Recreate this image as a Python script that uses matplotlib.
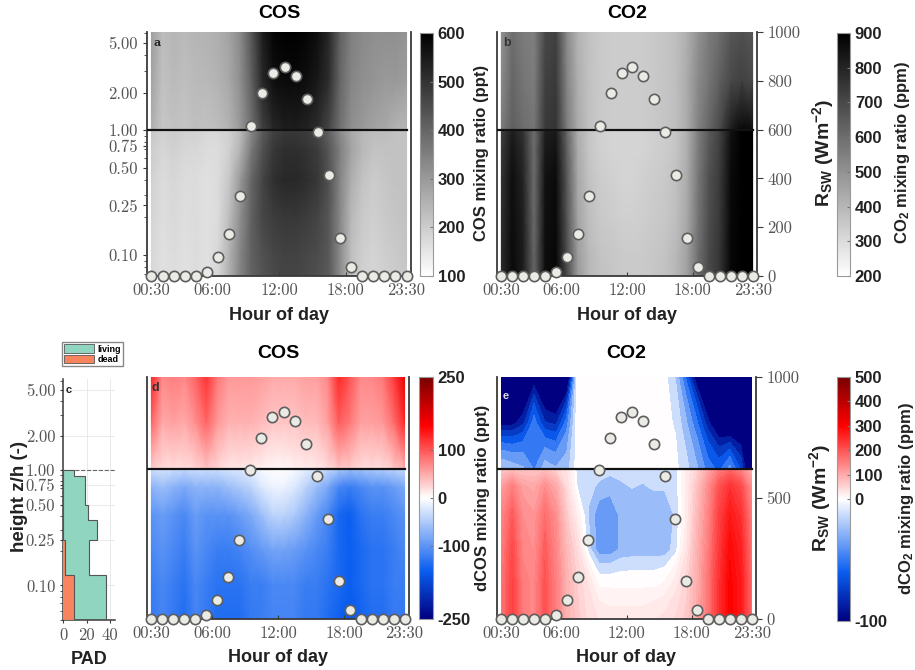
import matplotlib
matplotlib.use('Agg')
import matplotlib.pyplot as plt
import numpy as np
from matplotlib.colors import LinearSegmentedColormap, Normalize, TwoSlopeNorm
from matplotlib.cm import ScalarMappable
from matplotlib.patches import Patch
from matplotlib.ticker import NullFormatter

plt.rcParams['font.family'] = ['Liberation Sans', 'DejaVu Sans']
plt.rcParams['axes.unicode_minus'] = False
plt.rcParams['mathtext.fontset'] = 'custom'
plt.rcParams['mathtext.rm'] = 'Liberation Sans:bold'
plt.rcParams['mathtext.bf'] = 'Liberation Sans:bold'
plt.rcParams['mathtext.it'] = 'Liberation Sans:bold'

# ---- data ----
hours = [0.5, 1.5, 2.5, 3.5, 4.5, 5.5, 6.5, 7.5, 8.5, 9.5, 10.5, 11.5,
         12.5, 13.5, 14.5, 15.5, 16.5, 17.5, 18.5, 19.5, 20.5, 21.5, 22.5, 23.5]
hour_ticks = [0.5, 6, 12, 18, 23.5]
hour_labels = ['00:30', '06:00', '12:00', '18:00', '23:30']
z_ticks = [0.1, 0.25, 0.5, 0.75, 1.0, 2.0, 5.0]
z_labels = ['0.10', '0.25', '0.50', '0.75', '1.00', '2.00', '5.00']

z_below = [0.05, 0.1, 0.2, 0.4, 0.7, 1.0]
z_above = [1.0, 2.5, 6.2]

# shortwave radiation (W m-2)
rsw = [0, 0, 0, 0, 0, 16, 79, 173, 327, 616, 749, 834,
       856, 818, 725, 590, 415, 155, 37, 0, 0, 0, 0, 0]

# COS mixing ratio (ppt)
cos_below = [
    [180, 160, 170, 160, 170, 160, 180, 260, 340, 400, 430, 450, 460, 460, 450, 440, 420, 330, 220, 190, 180, 190, 200, 210],
    [180, 160, 170, 160, 170, 160, 180, 250, 340, 410, 440, 460, 470, 470, 460, 450, 425, 330, 225, 195, 185, 195, 205, 215],
    [185, 165, 175, 165, 170, 160, 170, 230, 320, 410, 460, 480, 490, 490, 480, 465, 430, 335, 240, 205, 195, 205, 215, 220],
    [190, 170, 180, 170, 170, 160, 170, 210, 300, 400, 465, 505, 520, 520, 510, 490, 440, 340, 260, 220, 200, 210, 220, 220],
    [200, 180, 190, 180, 180, 170, 170, 190, 250, 360, 440, 490, 510, 510, 500, 480, 430, 350, 280, 240, 220, 220, 220, 220],
    [210, 190, 200, 190, 190, 180, 180, 190, 230, 330, 420, 470, 490, 490, 480, 460, 410, 330, 270, 240, 230, 230, 220, 220],
]
cos_above = [
    [260, 210, 220, 215, 225, 220, 230, 250, 300, 380, 470, 520, 540, 540, 530, 510, 460, 380, 320, 300, 280, 270, 250, 240],
    [280, 220, 235, 225, 235, 240, 250, 270, 320, 410, 520, 570, 580, 580, 570, 550, 510, 400, 340, 320, 310, 300, 300, 290],
    [290, 230, 245, 235, 245, 250, 260, 280, 330, 430, 540, 590, 600, 600, 590, 570, 520, 410, 350, 330, 320, 320, 320, 310],
]

# CO2 mixing ratio (ppm)
co2_below = [
    [780, 870, 820, 620, 860, 880, 700, 480, 400, 370, 360, 350, 350, 350, 360, 370, 400, 460, 600, 700, 760, 880, 900, 900],
    [780, 870, 820, 620, 860, 880, 690, 470, 395, 365, 355, 345, 345, 345, 355, 365, 395, 455, 595, 695, 755, 880, 900, 900],
    [770, 865, 810, 610, 855, 875, 670, 450, 380, 350, 340, 330, 330, 335, 345, 355, 380, 440, 580, 685, 745, 875, 900, 900],
    [760, 860, 800, 600, 850, 870, 660, 440, 370, 340, 330, 320, 320, 330, 340, 350, 370, 430, 570, 680, 740, 870, 900, 900],
    [740, 840, 780, 600, 830, 850, 640, 430, 360, 330, 320, 320, 320, 320, 330, 340, 360, 420, 560, 660, 730, 860, 900, 900],
    [720, 820, 760, 590, 810, 830, 620, 420, 360, 330, 320, 320, 320, 320, 330, 340, 360, 420, 550, 650, 720, 850, 900, 900],
]
co2_above = [
    [560, 640, 600, 580, 740, 760, 560, 430, 370, 350, 340, 340, 340, 340, 350, 360, 380, 430, 540, 620, 700, 820, 880, 860],
    [520, 620, 580, 560, 720, 740, 540, 420, 370, 350, 340, 340, 340, 340, 350, 360, 380, 430, 520, 580, 640, 700, 720, 700],
    [500, 600, 560, 550, 700, 720, 520, 410, 370, 350, 340, 340, 340, 340, 350, 360, 380, 420, 500, 560, 600, 660, 680, 660],
]

# COS difference (ppt)
dcos_below = [
    [-125, -115, -125, -135, -115, -125, -135, -135, -135, -125, -120, -115, -115, -115, -125, -125, -135, -145, -155, -145, -135, -135, -125, -125],
    [-120, -110, -120, -130, -110, -120, -130, -130, -130, -120, -120, -110, -110, -110, -120, -120, -130, -140, -150, -140, -130, -130, -120, -120],
    [-110, -100, -110, -120, -100, -110, -120, -120, -115, -105, -95, -85, -85, -90, -100, -110, -120, -140, -150, -140, -130, -130, -120, -110],
    [-100, -90, -100, -110, -90, -100, -100, -100, -90, -80, -60, -40, -40, -50, -70, -90, -110, -140, -150, -130, -120, -120, -110, -100],
    [-70, -60, -70, -80, -70, -70, -70, -60, -50, -40, -20, -10, -10, -20, -40, -60, -80, -110, -120, -110, -100, -100, -90, -80],
    [-30, -25, -30, -35, -30, -30, -30, -25, -20, -15, -5, 0, 0, -5, -15, -25, -35, -50, -60, -55, -50, -45, -40, -35],
]
dcos_above = [
    [30, 20, 20, 20, 25, 35, 25, 15, 15, 12, 8, 5, 5, 8, 10, 12, 20, 35, 30, 20, 20, 20, 30, 45],
    [90, 50, 55, 50, 65, 90, 60, 45, 45, 45, 40, 35, 35, 35, 40, 40, 55, 95, 80, 55, 55, 60, 85, 125],
    [130, 70, 75, 70, 90, 120, 80, 60, 60, 60, 55, 50, 50, 50, 55, 55, 70, 125, 100, 70, 70, 80, 115, 165],
]

# CO2 difference (ppm)
dco2_below = [
    [160, 220, 150, 140, 200, 150, 90, 60, 40, 30, 25, 25, 25, 25, 30, 35, 45, 60, 100, 160, 240, 300, 270, 170],
    [160, 220, 150, 140, 200, 150, 90, 55, 30, 3, 3, 3, 3, 3, 3, 8, 25, 50, 95, 160, 240, 300, 270, 170],
    [150, 210, 140, 130, 190, 140, 80, 40, -12, -40, -40, -29, -27, -27, -27, -27, -12, 30, 90, 150, 230, 290, 260, 160],
    [140, 190, 130, 120, 170, 130, 60, 15, -20, -40, -38, -29, -27, -27, -27, -27, -17, 20, 80, 140, 220, 270, 240, 150],
    [110, 150, 110, 100, 130, 100, 40, -8, -15, -21, -27, -21, -18, -20, -17, -17, -13, 20, 70, 130, 200, 240, 210, 130],
    [60, 70, 60, 60, 70, 50, 30, -13, -13, -13, -13, -13, -13, -13, -13, -13, -13, 20, 50, 100, 150, 170, 140, 90],
]
dco2_above = [
    [-20, -25, -30, -45, -25, -30, -25, 0, 2, 2, 2, 2, 2, 2, 2, -2, -3, -15, -30, -50, -60, -40, -70, -130],
    [-100, -100, -85, -50, -80, -85, -50, 2, 3, 3, 3, 3, 3, 3, 3, -2, -8, -30, -55, -90, -120, -130, -130, -140],
    [-160, -160, -150, -110, -150, -160, -130, 4, 4, 4, 4, 4, 4, 4, 4, -2, -20, -60, -110, -150, -150, -150, -150, -150],
]

# plant area density profile
pad_edges = [0.05, 0.123, 0.25, 0.37, 0.5, 0.89, 1.0]
pad_living = [36, 22, 29, 21, 19, 9.3]
pad_dead = [9.3, 1.5, 0, 0, 0, 0]

# ---- figure ----
W, H = 915, 670
fig = plt.figure(figsize=(9.15, 6.7), dpi=100)


def box(l, t, r, b):
    return [l / W, 1 - b / H, (r - l) / W, (b - t) / H]


def ftext(x, y, s, **kw):
    fig.text(x / W, 1 - y / H, s, ha=kw.pop('ha', 'center'), va=kw.pop('va', 'center'), **kw)


TICK = dict(fontfamily='cmr10', fontsize=12, color='#555555')
SPINE = '#3a3a3a'
rwb = LinearSegmentedColormap.from_list(
    'rwb', [(0, '#000080'), (0.2, '#0a5ef0'), (0.5, '#ffffff'), (0.8, '#ff0000'), (1, '#7a0000')])


def setup_main(ax, ylim, show_left):
    ax.set_yscale('log')
    ax.set_xlim(0.1, 23.9)
    ax.set_ylim(*ylim)
    ax.set_xticks(hour_ticks)
    ax.set_xticklabels(hour_labels, **TICK)
    ax.set_yticks(z_ticks)
    ax.yaxis.set_minor_formatter(NullFormatter())
    if show_left:
        ax.set_yticklabels(z_labels, **TICK)
        ax.tick_params(axis='y', which='major', direction='out', length=3, color=SPINE)
        ax.tick_params(axis='y', which='minor', direction='out', length=2, color=SPINE)
    else:
        ax.set_yticklabels([])
        ax.tick_params(axis='y', which='both', length=0)
    ax.tick_params(axis='x', direction='in', length=3, color=SPINE, pad=5)
    for s in ['top', 'right']:
        ax.spines[s].set_visible(False)
    for s in ['left', 'bottom']:
        ax.spines[s].set_color(SPINE)
        ax.spines[s].set_linewidth(1.3)
    ax.plot([0.1, 23.5], [1, 1], color='#111111', lw=1.6, zorder=4)


def add_rsw(ax, ticks):
    tw = ax.twinx()
    tw.set_ylim(0, 1000)
    tw.scatter(hours, rsw, s=55, facecolor='#ebebe6', edgecolor='#5e5e5e',
               linewidth=1.2, zorder=6, clip_on=False)
    for s in ['top', 'left', 'bottom']:
        tw.spines[s].set_visible(False)
    tw.spines['right'].set_color(SPINE)
    tw.spines['right'].set_linewidth(1.3)
    if ticks:
        tw.set_yticks(ticks)
        tw.set_yticklabels([str(t) for t in ticks], **TICK)
        tw.tick_params(axis='y', direction='out', length=4, color=SPINE)
    else:
        tw.set_yticks([])
    return tw


def style_cbar(cb, ticks):
    cb.set_ticks(ticks)
    cb.ax.tick_params(labelsize=12, length=2, direction='in', color='#777777')
    for lab in cb.ax.get_yticklabels():
        lab.set_fontweight('bold')
        lab.set_color('#222222')
    cb.outline.set_edgecolor('#999999')
    cb.outline.set_linewidth(0.8)


# panel a: COS
ax_a = fig.add_axes(box(147, 32, 411, 276))
m_a = ax_a.pcolormesh(hours, z_below, cos_below, shading='gouraud', cmap='gray_r', vmin=100, vmax=600)
ax_a.pcolormesh(hours, z_above, cos_above, shading='gouraud', cmap='gray_r', vmin=100, vmax=600)
setup_main(ax_a, (0.068, 6.1), True)
add_rsw(ax_a, None)
cb_a = fig.colorbar(m_a, cax=fig.add_axes(box(420, 33, 433, 276)))
style_cbar(cb_a, [100, 200, 300, 400, 500, 600])

# panel b: CO2
ax_b = fig.add_axes(box(497, 32, 757, 276))
m_b = ax_b.pcolormesh(hours, z_below, co2_below, shading='gouraud', cmap='gray_r', vmin=200, vmax=900)
ax_b.pcolormesh(hours, z_above, co2_above, shading='gouraud', cmap='gray_r', vmin=200, vmax=900)
setup_main(ax_b, (0.068, 6.1), False)
add_rsw(ax_b, [0, 200, 400, 600, 800, 1000])
cb_b = fig.colorbar(m_b, cax=fig.add_axes(box(837, 33, 850, 276)))
style_cbar(cb_b, [200, 300, 400, 500, 600, 700, 800, 900])

# panel c: PAD profile
ax_c = fig.add_axes(box(63, 379, 115, 620))
teal, salmon = '#8fd5bf', '#f8845f'
ax_c.stairs(pad_living, pad_edges, orientation='horizontal', fill=True, color=teal, zorder=2)
ax_c.stairs(pad_living, pad_edges, orientation='horizontal', color='#555555', lw=0.8, zorder=3)
ax_c.stairs(pad_dead, pad_edges, orientation='horizontal', fill=True, color=salmon, zorder=3)
ax_c.stairs(pad_dead, pad_edges, orientation='horizontal', color='#555555', lw=0.8, zorder=4)
ax_c.set_yscale('log')
ax_c.set_ylim(0.05, 6.2)
ax_c.set_xlim(0, 44)
ax_c.axhline(1.0, color='#666666', lw=0.8, ls='--', zorder=1)
ax_c.set_yticks(z_ticks)
ax_c.set_yticklabels(z_labels, **TICK)
ax_c.yaxis.set_minor_formatter(NullFormatter())
ax_c.set_xticks([0, 20, 40])
ax_c.set_xticklabels(['0', '20', '40'], **TICK)
ax_c.grid(True, color='#e6e6e6', lw=0.6, zorder=0)
ax_c.set_axisbelow(True)
ax_c.tick_params(axis='both', which='both', direction='out', length=2, color=SPINE)
for s in ['top', 'right']:
    ax_c.spines[s].set_visible(False)
for s in ['left', 'bottom']:
    ax_c.spines[s].set_color(SPINE)
    ax_c.spines[s].set_linewidth(1.1)
fig.legend(handles=[Patch(facecolor=teal, edgecolor='#555555', lw=0.6, label='living'),
                    Patch(facecolor=salmon, edgecolor='#555555', lw=0.6, label='dead')],
           loc='upper left', bbox_to_anchor=(62 / W, 1 - 342 / H),
           prop=dict(size=6.5, weight='bold'), handlelength=3.3, handleheight=1.1,
           labelspacing=0.12, borderpad=0.25, handletextpad=0.4, borderaxespad=0,
           frameon=True, fancybox=False, edgecolor='#888888', framealpha=1)

# panel d: dCOS
norm_d = Normalize(-250, 250)
ax_d = fig.add_axes(box(147, 377, 409, 619))
m_d = ax_d.pcolormesh(hours, z_below, dcos_below, shading='gouraud', cmap=rwb, norm=norm_d)
ax_d.pcolormesh(hours, z_above, dcos_above, shading='gouraud', cmap=rwb, norm=norm_d)
setup_main(ax_d, (0.05, 6.2), False)
add_rsw(ax_d, None)
cb_d = fig.colorbar(m_d, cax=fig.add_axes(box(419, 377, 433, 619)))
style_cbar(cb_d, [-250, -100, 0, 100, 250])

# panel e: dCO2 (filled contours, one band centred on zero)
norm_e = TwoSlopeNorm(vmin=-100, vcenter=0, vmax=500)
levels_e = np.arange(-106.25, 500, 12.5)
ax_e = fig.add_axes(box(497, 377, 756, 619))
ax_e.contourf(hours, z_below, dco2_below, levels=levels_e, cmap=rwb, norm=norm_e, extend='both')
ax_e.contourf(hours, z_above, dco2_above, levels=levels_e, cmap=rwb, norm=norm_e, extend='both')
setup_main(ax_e, (0.05, 6.2), False)
add_rsw(ax_e, [0, 500, 1000])
cb_e = fig.colorbar(ScalarMappable(norm=norm_e, cmap=rwb), cax=fig.add_axes(box(837, 377, 850, 621)))
style_cbar(cb_e, [-100, 0, 100, 200, 300, 400, 500])

# ---- text ----
ftext(279, 13, 'COS', fontsize=14, fontweight='bold')
ftext(627, 13, 'CO2', fontsize=14, fontweight='bold')
ftext(278, 354, 'COS', fontsize=14, fontweight='bold')
ftext(626, 354, 'CO2', fontsize=14, fontweight='bold')
for x, y in [(279, 316), (627, 316), (278, 657), (626, 657)]:
    ftext(x, y, 'Hour of day', fontsize=13, fontweight='bold', color='#222222')
ftext(89, 659, 'PAD', fontsize=13, fontweight='bold', color='#222222')
ftext(20, 497, 'height z/h (-)', fontsize=13.5, fontweight='bold', rotation=90, color='#222222')
ftext(482, 153, 'COS mixing ratio (ppt)', fontsize=12, fontweight='bold', rotation=90, color='#222222')
ftext(903, 153, r'CO$_2$ mixing ratio (ppm)', fontsize=12, fontweight='bold', rotation=90, color='#222222')
ftext(823, 153, r'R$_{SW}$ (Wm$^{-2}$)', fontsize=14, fontweight='bold', rotation=90, color='#222222')
ftext(483, 498, 'dCOS mixing ratio (ppt)', fontsize=12, fontweight='bold', rotation=90, color='#222222')
ftext(907, 498, r'dCO$_2$ mixing ratio (ppm)', fontsize=12, fontweight='bold', rotation=90, color='#222222')
ftext(820, 498, r'R$_{SW}$ (Wm$^{-2}$)', fontsize=14, fontweight='bold', rotation=90, color='#222222')

ftext(153, 43, 'a', ha='left', fontsize=8, fontweight='bold', fontfamily='DejaVu Serif', color='#222222')
ftext(503, 43, 'b', ha='left', fontsize=9, fontweight='bold', color='#333333')
ftext(66, 390, 'c', ha='left', fontsize=8, fontweight='bold', color='#222222')
ftext(152, 388, 'd', ha='left', fontsize=9, fontweight='bold', color='#333333')
ftext(503, 396, 'e', ha='left', fontsize=8, fontweight='bold', color='#dddddd')

fig.savefig('out.png', dpi=100)
